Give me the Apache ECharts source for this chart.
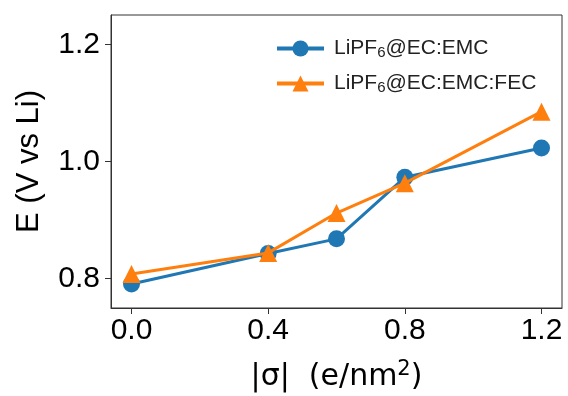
<!DOCTYPE html>
<html>
<head>
<meta charset="utf-8">
<script src="https://cdn.jsdelivr.net/npm/echarts@6/dist/echarts.min.js"></script>
<style>
  html, body { margin: 0; padding: 0; background: #fff; }
  #chart { width: 568px; height: 396px; }
</style>
</head>
<body>
<div id="chart"></div>
<script>
// surface charge |σ| (e/nm²)
const sigma = [0, 0.4, 0.6, 0.8, 1.2];
// potential E (V vs Li)
const eEmc = [0.791, 0.843, 0.868, 0.973, 1.023];
const eFec = [0.808, 0.844, 0.912, 0.963, 1.085];
const seriesNames = ['LiPF6@EC:EMC', 'LiPF6@EC:EMC:FEC'];
const xTicks = [0, 0.4, 0.8, 1.2];
const yTicks = [0.8, 1.0, 1.2];

const font = 'Liberation Sans, Arial, sans-serif';
const mathFont = 'DejaVu Sans, sans-serif';
const chart = echarts.init(document.getElementById('chart'));

function pairs(xs, ys) {
    return xs.map(function (x, i) { return [x, ys[i]]; });
}

const option = {
    animation: false,
    textStyle: { fontFamily: font, color: '#000' },
    grid: {
        left: 111, right: 6, top: 15, bottom: 88,
        outerBoundsMode: 'none',
        containLabel: false,
        show: true, borderColor: '#333', borderWidth: 1
    },
    legend: {
        orient: 'vertical',
        left: 270,
        top: 33,
        itemWidth: 47,
        itemHeight: 20,
        itemGap: 13,
        data: seriesNames,
        lineStyle: { width: 4 },
        formatter: function (name) {
            return name.replace('LiPF6', 'LiPF{sub|6}');
        },
        textStyle: {
            fontFamily: font,
            fontSize: 21,
            color: '#222',
            padding: [0, 0, 0, 5],
            rich: {
                sub: { fontFamily: font, fontSize: 15, color: '#222', verticalAlign: 'bottom', padding: [8, 0, 0, 0] }
            }
        }
    },
    xAxis: {
        type: 'value',
        min: -0.06,
        max: 1.26,
        name: '|σ|  (e/nm{sup|2})',
        nameLocation: 'middle',
        nameGap: 51,
        nameTextStyle: {
            fontFamily: mathFont, fontSize: 30, color: '#000',
            rich: {
                sup: { fontFamily: mathFont, fontSize: 21, color: '#000', verticalAlign: 'top', padding: [0, 0, 16, 0] }
            }
        },
        splitLine: { show: false },
        axisLine: { show: true, onZero: false, lineStyle: { color: '#333', width: 1 } },
        axisTick: { show: true, length: 6, customValues: xTicks, lineStyle: { color: '#333' } },
        axisLabel: {
            customValues: xTicks,
            fontSize: 30, color: '#000', margin: 8,
            formatter: function (v) { return v.toFixed(1); }
        }
    },
    yAxis: {
        type: 'value',
        min: 0.75,
        max: 1.25,
        name: 'E (V vs Li)',
        nameLocation: 'middle',
        nameGap: 66,
        nameTextStyle: { fontFamily: font, fontSize: 31, color: '#000' },
        splitLine: { show: false },
        axisLine: { show: true, onZero: false, lineStyle: { color: '#333', width: 1 } },
        axisTick: { show: true, length: 6, customValues: yTicks, lineStyle: { color: '#333' } },
        axisLabel: {
            customValues: yTicks,
            fontSize: 30, color: '#000', margin: 11,
            formatter: function (v) { return v.toFixed(1); }
        }
    },
    series: [
        {
            name: seriesNames[0],
            type: 'line',
            data: pairs(sigma, eEmc),
            symbol: 'circle',
            symbolSize: 17,
            color: '#1f77b4',
            lineStyle: { width: 3 },
            z: 2
        },
        {
            name: seriesNames[1],
            type: 'line',
            data: pairs(sigma, eFec),
            symbol: 'triangle',
            symbolSize: 18,
            color: '#ff7f0e',
            lineStyle: { width: 3 },
            z: 3
        }
    ]
};

chart.setOption(option);
window.addEventListener('resize', chart.resize);
</script>
</body>
</html>
